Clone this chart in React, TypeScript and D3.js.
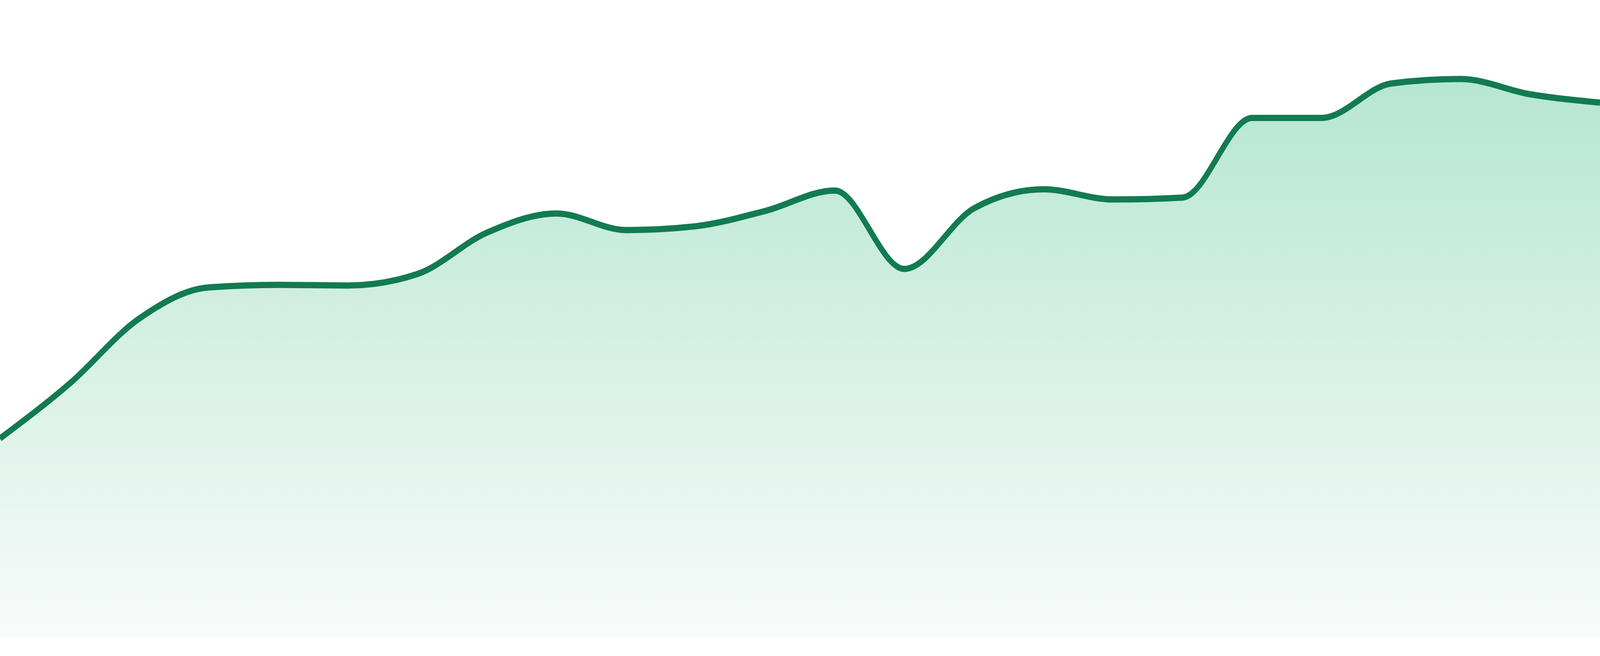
import * as d3 from 'd3';
import React, { FC, useEffect } from 'react';

// values, one per step, evenly spaced
const steps = d3.range(24);
const values = [
	31.2, 39.8, 50.0, 54.9, 55.3, 55.2, 57.0, 63.5, 66.5, 63.9, 64.5, 66.9,
	70.1, 57.8, 67.3, 70.3, 68.7, 69.0, 81.5, 81.5, 86.9, 87.6, 85.2, 83.9,
];
const yDomain = [0, 100];

const AreaChartD3: FC = () => {
	const containerDiv = React.useRef<HTMLDivElement>(null);
	const { height, width } = { height: 1680, width: 4800 };
	const margin = { top: 0, right: 0, bottom: 48, left: 0 };

	const initializeChart = () => {
		const data = steps.map((s, i) => ({ step: s, value: values[i] }));

		const x: any = d3
			.scaleLinear()
			.domain([0, steps.length - 1])
			.range([margin.left, width - margin.right]);

		const y: any = d3
			.scaleLinear()
			.domain(yDomain)
			.range([height - margin.bottom, margin.top]);

		// stretch to the window whatever its css size is
		const svg = d3
			.create('svg')
			.attr('viewBox', `0 0 ${width} ${height}`)
			.attr('preserveAspectRatio', 'none')
			.style('position', 'fixed')
			.style('left', '0')
			.style('top', '0')
			.style('width', '100vw')
			.style('height', '100vh')
			.style('display', 'block');

		const grad = svg
			.append('defs')
			.append('linearGradient')
			.attr('id', 'areaFill')
			.attr('gradientUnits', 'userSpaceOnUse')
			.attr('x1', 0)
			.attr('x2', 0)
			.attr('y1', y(100))
			.attr('y2', y(0));
		grad.append('stop').attr('offset', '0%').attr('stop-color', '#ace3cc');
		grad.append('stop').attr('offset', '100%').attr('stop-color', '#f8fbfa');

		const area = d3
			.area<any>()
			.curve(d3.curveMonotoneX)
			.x((d: any) => x(d.step))
			.y0(y(0))
			.y1((d: any) => y(d.value));

		const line = d3
			.line<any>()
			.curve(d3.curveMonotoneX)
			.x((d: any) => x(d.step))
			.y((d: any) => y(d.value));

		svg.append('path').datum(data).attr('d', area).attr('fill', 'url(#areaFill)');

		svg.append('path')
			.datum(data)
			.attr('d', line)
			.attr('fill', 'none')
			.attr('stroke', '#127b51')
			.attr('stroke-width', 16)
			.attr('stroke-linejoin', 'round');

		return svg.node();
	};

	useEffect(() => {
		document.body.style.margin = '0';
		document.body.style.overflow = 'hidden';
		const chart = initializeChart();
		const container: HTMLDivElement = containerDiv.current as HTMLDivElement;
		if (container && chart) {
			container.firstChild && container.removeChild(container.firstChild);
			container.appendChild(chart);
		}
	}, []);

	return <div ref={containerDiv}></div>;
};

export default function App() {
	return <AreaChartD3 />;
}
